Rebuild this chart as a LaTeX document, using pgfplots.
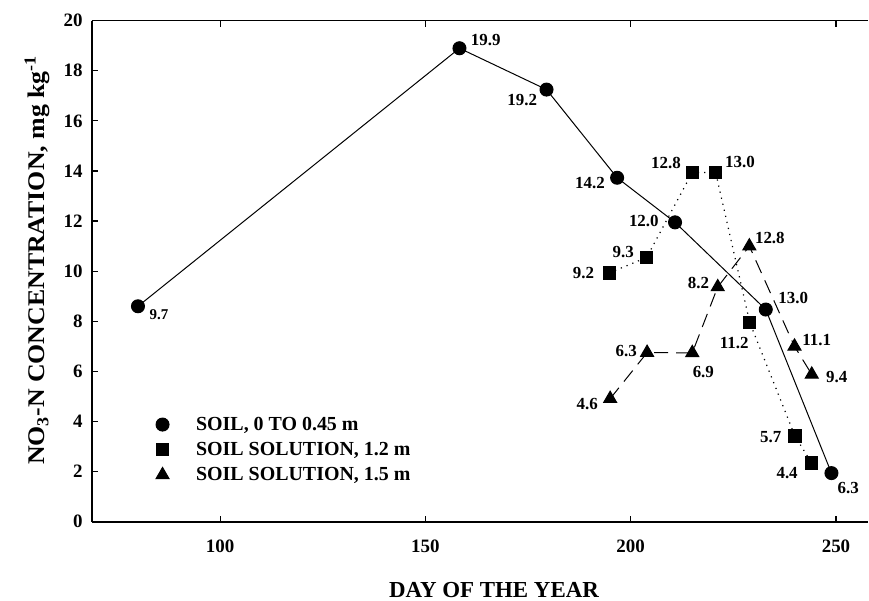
\documentclass[border=0pt]{standalone}
\usepackage{fontspec}
\setmainfont{Liberation Serif}
\usepackage{pgfplots}
\pgfplotsset{compat=1.18}
\usetikzlibrary{calc}
\newcommand{\lbl}{\fontsize{17}{19}\selectfont\bfseries}
\begin{document}
\begin{tikzpicture}
\begin{axis}[
  scale only axis, width=776bp, height=501bp,
  xmin=68.8, xmax=257.8, ymin=0, ymax=20,
  axis lines=left, axis line style={-, line width=1.6bp},
  xtick={100,150,200,250}, ytick={0,2,...,20},
  tick align=inside, major tick length=6bp,
  tick style={line width=1.2bp, black},
  /pgf/number format/assume math mode=true,
  ticklabel style={font=\fontsize{19}{21}\selectfont\bfseries},
  xticklabel style={yshift=-15bp},
  yticklabel style={xshift=-6bp},
  xlabel={DAY OF THE YEAR},
  ylabel={\scalebox{1.08}[1]{NO\textsubscript{3}-N CONCENTRATION, mg kg\textsuperscript{-1}}},
  xlabel style={font=\fontsize{23}{26}\selectfont\bfseries, at={(axis description cs:0.518,-0.136)}, anchor=center},
  ylabel style={font=\fontsize{24}{27}\selectfont\bfseries, at={(axis description cs:-0.0915,0.522)}, anchor=north},
  clip=false,
  legend style={at={(axis description cs:0.077,0.213)}, anchor=north west,
    draw=none, fill=none, font=\fontsize{20}{22}\selectfont\bfseries,
    row sep=6.5bp, inner sep=0pt},
  legend cell align=left,
  legend image code/.code={\path (-10bp,0bp) (31bp,0bp);
    \draw[#1,only marks] plot coordinates {(0bp,0bp)};},
]
\addplot[black, line width=1bp, mark=*, mark size=6.5bp] coordinates {
 (80,8.6) (158.3,18.9) (179.5,17.25) (196.7,13.73) (210.8,11.95) (232.9,8.47) (248.9,1.94)};
\addlegendentry{SOIL, 0 TO 0.45 m}
\addplot[black, line width=1.2bp, dash pattern=on 1.2bp off 5bp, mark=square*, mark size=6bp, mark options={solid}] coordinates {
 (194.8,9.93) (203.9,10.55) (215,13.94) (220.7,13.94) (229,7.95) (240,3.42) (244.1,2.34)};
\addlegendentry{SOIL SOLUTION, 1.2 m}
\addplot[black, line width=1bp, dash pattern=on 14bp off 8bp, mark=triangle*, mark size=7.5bp, mark options={solid}] coordinates {
 (195,4.91) (204,6.75) (215,6.74) (221.2,9.37) (228.9,11.0) (239.9,7.0) (244.1,5.88)};
\addlegendentry{SOIL SOLUTION, 1.5 m}
% top spine and its ticks
\draw[line width=1.6bp] (rel axis cs:0,1) -- (rel axis cs:1,1);
\draw[line width=1.2bp] (axis cs:100,20) -- ++(0pt,-6bp);
\draw[line width=1.2bp] (axis cs:150,20) -- ++(0pt,-6bp);
\draw[line width=1.2bp] (axis cs:200,20) -- ++(0pt,-6bp);
\draw[line width=1.2bp] (axis cs:250,20) -- ++(0pt,-6bp);
% point labels
\node[font=\fontsize{15}{17}\selectfont\bfseries] at (axis cs:85.1,8.28) {9.7};
\node[font=\lbl] at (axis cs:164.7,19.23) {19.9};
\node[font=\lbl] at (axis cs:173.6,16.83) {19.2};
\node[font=\lbl] at (axis cs:190.1,13.54) {14.2};
\node[font=\lbl] at (axis cs:203.2,12.0) {12.0};
\node[font=\lbl] at (axis cs:198.2,10.77) {9.3};
\node[font=\lbl] at (axis cs:188.5,9.91) {9.2};
\node[font=\lbl] at (axis cs:208.6,14.30) {12.8};
\node[font=\lbl] at (axis cs:226.6,14.37) {13.0};
\node[font=\lbl] at (axis cs:216.5,9.53) {8.2};
\node[font=\lbl] at (axis cs:233.9,11.31) {12.8};
\node[font=\lbl] at (axis cs:239.6,8.95) {13.0};
\node[font=\lbl] at (axis cs:225.2,7.14) {11.2};
\node[font=\lbl] at (axis cs:245.3,7.27) {11.1};
\node[font=\lbl] at (axis cs:250.2,5.78) {9.4};
\node[font=\lbl] at (axis cs:217.7,5.98) {6.9};
\node[font=\lbl] at (axis cs:198.9,6.82) {6.3};
\node[font=\lbl] at (axis cs:189.4,4.71) {4.6};
\node[font=\lbl] at (axis cs:234.1,3.36) {5.7};
\node[font=\lbl] at (axis cs:238.1,1.96) {4.4};
\node[font=\lbl] at (axis cs:253.0,1.36) {6.3};
\coordinate (O) at (rel axis cs:0,0);
\end{axis}
\pgfresetboundingbox
\path[use as bounding box] ($(O)+(-92bp,-79.3bp)$) rectangle ($(O)+(777bp,521.7bp)$);
\end{tikzpicture}
\end{document}
